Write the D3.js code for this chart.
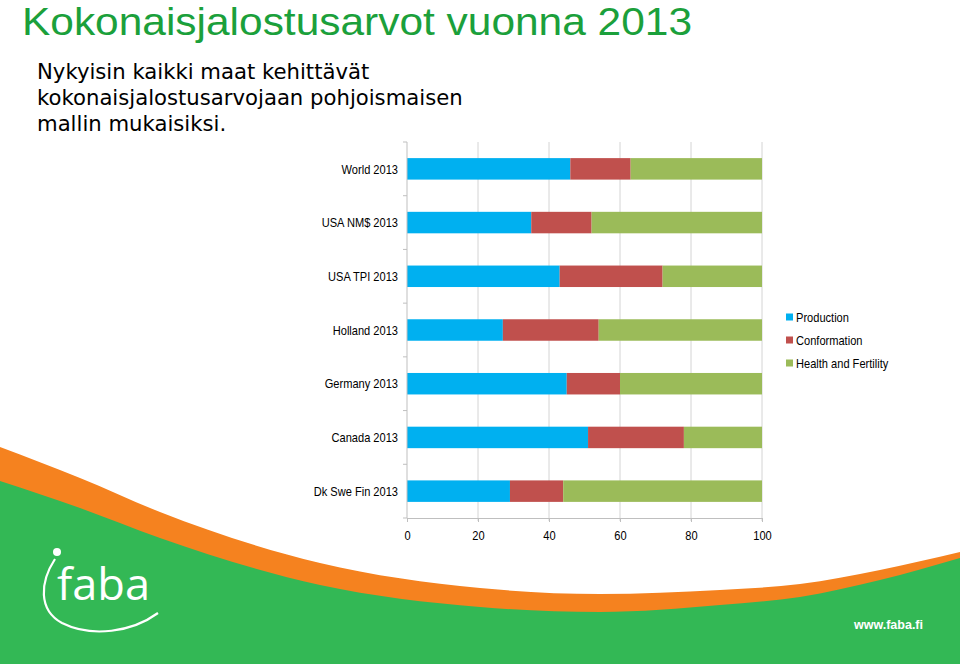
<!DOCTYPE html>
<html>
<head>
<meta charset="utf-8">
<title>Kokonaisjalostusarvot vuonna 2013</title>
<script src="https://cdn.jsdelivr.net/npm/d3@7"></script>
<style>
  body { margin:0; background:#fff; }
  svg { display:block; }
</style>
</head>
<body>
<div id="chart"></div>
<script>
// data
var categories = ["World 2013", "USA NM$ 2013", "USA TPI 2013", "Holland 2013", "Germany 2013", "Canada 2013", "Dk Swe Fin 2013"];
var production   = [46, 35, 43, 27, 45, 51, 29];
var conformation = [17, 17, 29, 27, 15, 27, 15];
var health       = [37, 48, 28, 46, 40, 22, 56];
var seriesNames  = ["Production", "Conformation", "Health and Fertility"];
var seriesColors = ["#00b0f0", "#c0504d", "#9bbb59"];
var xTicks = [0, 20, 40, 60, 80, 100];

// decorative swoosh at the bottom of the slide
var orangeTop = [[0,447],[80,478],[160,512],[320,563],[480,588],[600,594],[720,590],[800,584],[880,570],[960,552]];
var greenTop  = [[0,481],[80,508],[160,538],[320,585],[480,607],[600,612],[720,605],[800,597],[880,580],[960,558]];

var W = 960, H = 664;
var svg = d3.select("#chart").append("svg").attr("width", W).attr("height", H);

// narrow font check
function hasFont(name){
  var c = document.createElement("canvas").getContext("2d");
  c.font = "20px monospace"; var a = c.measureText("World 2013 abc").width;
  c.font = "20px '" + name + "', monospace"; var b = c.measureText("World 2013 abc").width;
  return a != b;
}
var narrow = hasFont("Liberation Sans Narrow");
var chartFont = narrow ? "'Liberation Sans Narrow', 'Arial Narrow', sans-serif" : "'Liberation Sans', Arial, sans-serif";
function squeeze(sel){
  if (narrow) return;
  sel.each(function(){
    var w = this.getComputedTextLength();
    d3.select(this).attr("textLength", w*0.82).attr("lengthAdjust", "spacingAndGlyphs");
  });
}

var curve = d3.line().curve(d3.curveMonotoneX);
function area(pts){
  return curve(pts) + "L" + W + "," + H + "L0," + H + "Z";
}
svg.append("path").attr("d", area(orangeTop)).attr("fill", "#f5821f");
svg.append("path").attr("d", area(greenTop)).attr("fill", "#33b855");

// logo
var logo = svg.append("g").attr("fill", "none").attr("stroke", "#fff");
logo.append("path")
  .attr("d", "M55,559 C40,582 38,610 62,623 C92,638 132,632 158,613")
  .attr("stroke-width", 2.2);
logo.append("circle").attr("cx", 57).attr("cy", 552).attr("r", 4).attr("fill", "#fff").attr("stroke", "none");
svg.append("text").attr("x", 57).attr("y", 600)
  .attr("font-family", "'Open Sans', 'Liberation Sans', sans-serif").attr("font-weight", 400)
  .attr("font-size", 44).attr("textLength", 93).attr("lengthAdjust", "spacingAndGlyphs")
  .attr("fill", "#fff").text("faba");
svg.append("text").attr("x", 854).attr("y", 629)
  .attr("font-family", "'Liberation Sans', Arial, sans-serif").attr("font-weight", "bold")
  .attr("font-size", 12.5).attr("fill", "#fff").text("www.faba.fi");

// title + intro text
svg.append("text").attr("x", 22).attr("y", 34.5)
  .attr("font-family", "'Liberation Sans', Arial, sans-serif")
  .attr("font-size", 38).attr("textLength", 670).attr("lengthAdjust", "spacingAndGlyphs")
  .attr("fill", "#1ba03b").text("Kokonaisjalostusarvot vuonna 2013");

var intro = ["Nykyisin kaikki maat kehittävät", "kokonaisjalostusarvojaan pohjoismaisen", "mallin mukaisiksi."];
svg.append("g").selectAll("text").data(intro).enter().append("text")
  .attr("x", 37).attr("y", function(d, i){ return 79 + i*26; })
  .attr("font-family", "'DejaVu Sans', Verdana, sans-serif")
  .attr("font-size", 21.2).attr("fill", "#000").text(function(d){ return d; });

// chart
var x = d3.scaleLinear().domain([0, 100]).range([407, 762]);
var y = d3.scaleBand().domain(categories).range([142, 518]).paddingInner(0.6).paddingOuter(0.3);

var rows = categories.map(function(c, i){
  return {cat:c, Production:production[i], Conformation:conformation[i], "Health and Fertility":health[i]};
});
var stacked = d3.stack().keys(seriesNames)(rows);

// gridlines
svg.append("g").selectAll("line").data(xTicks.slice(1)).enter().append("line")
  .attr("x1", function(d){ return x(d); }).attr("x2", function(d){ return x(d); })
  .attr("y1", 142).attr("y2", 521)
  .attr("stroke", "#d4d4d4").attr("stroke-width", 1);

svg.append("g").selectAll("g").data(stacked).enter().append("g")
  .attr("fill", function(d, i){ return seriesColors[i]; })
  .selectAll("rect").data(function(d){ return d; }).enter().append("rect")
  .attr("x", function(d){ return x(d[0]); })
  .attr("width", function(d){ return x(d[1]) - x(d[0]); })
  .attr("y", function(d){ return y(d.data.cat); })
  .attr("height", y.bandwidth());

// y axis line with ticks between categories
var step = y.step();
var yAx = svg.append("g").attr("stroke", "#bfbfbf").attr("stroke-width", 1);
yAx.append("line").attr("x1", 407).attr("x2", 407).attr("y1", 142).attr("y2", 518);
yAx.selectAll("line.t").data(d3.range(categories.length + 1)).enter().append("line").attr("class", "t")
  .attr("x1", 403).attr("x2", 407)
  .attr("y1", function(i){ return 142 + i*step; }).attr("y2", function(i){ return 142 + i*step; });

// x axis
var xAxis = svg.append("g").attr("transform", "translate(0,518)")
  .call(d3.axisBottom(x).tickValues(xTicks).tickSize(4).tickSizeOuter(0));
xAxis.select(".domain").attr("stroke", "#bfbfbf");
xAxis.selectAll(".tick line").attr("stroke", "#bfbfbf");
xAxis.selectAll(".tick text").attr("font-family", chartFont).attr("font-size", 13.5)
  .attr("fill", "#000").attr("y", 12).attr("dy", "0.71em").call(squeeze);

// category labels
svg.append("g").selectAll("text").data(categories).enter().append("text")
  .attr("x", 398).attr("y", function(d){ return y(d) + y.bandwidth()/2; })
  .attr("dy", "0.35em").attr("text-anchor", "end")
  .attr("font-family", chartFont).attr("font-size", 13.5).attr("fill", "#000")
  .text(function(d){ return d; }).call(squeeze);

// legend
var leg = svg.append("g").selectAll("g").data(seriesNames).enter().append("g")
  .attr("transform", function(d, i){ return "translate(786," + (317 + i*23) + ")"; });
leg.append("rect").attr("x", 0).attr("y", -3.5).attr("width", 7).attr("height", 7)
  .attr("fill", function(d, i){ return seriesColors[i]; });
leg.append("text").attr("x", 10).attr("dy", "0.35em")
  .attr("font-family", chartFont).attr("font-size", 13.5).attr("fill", "#000")
  .text(function(d){ return d; }).call(squeeze);
</script>
</body>
</html>
